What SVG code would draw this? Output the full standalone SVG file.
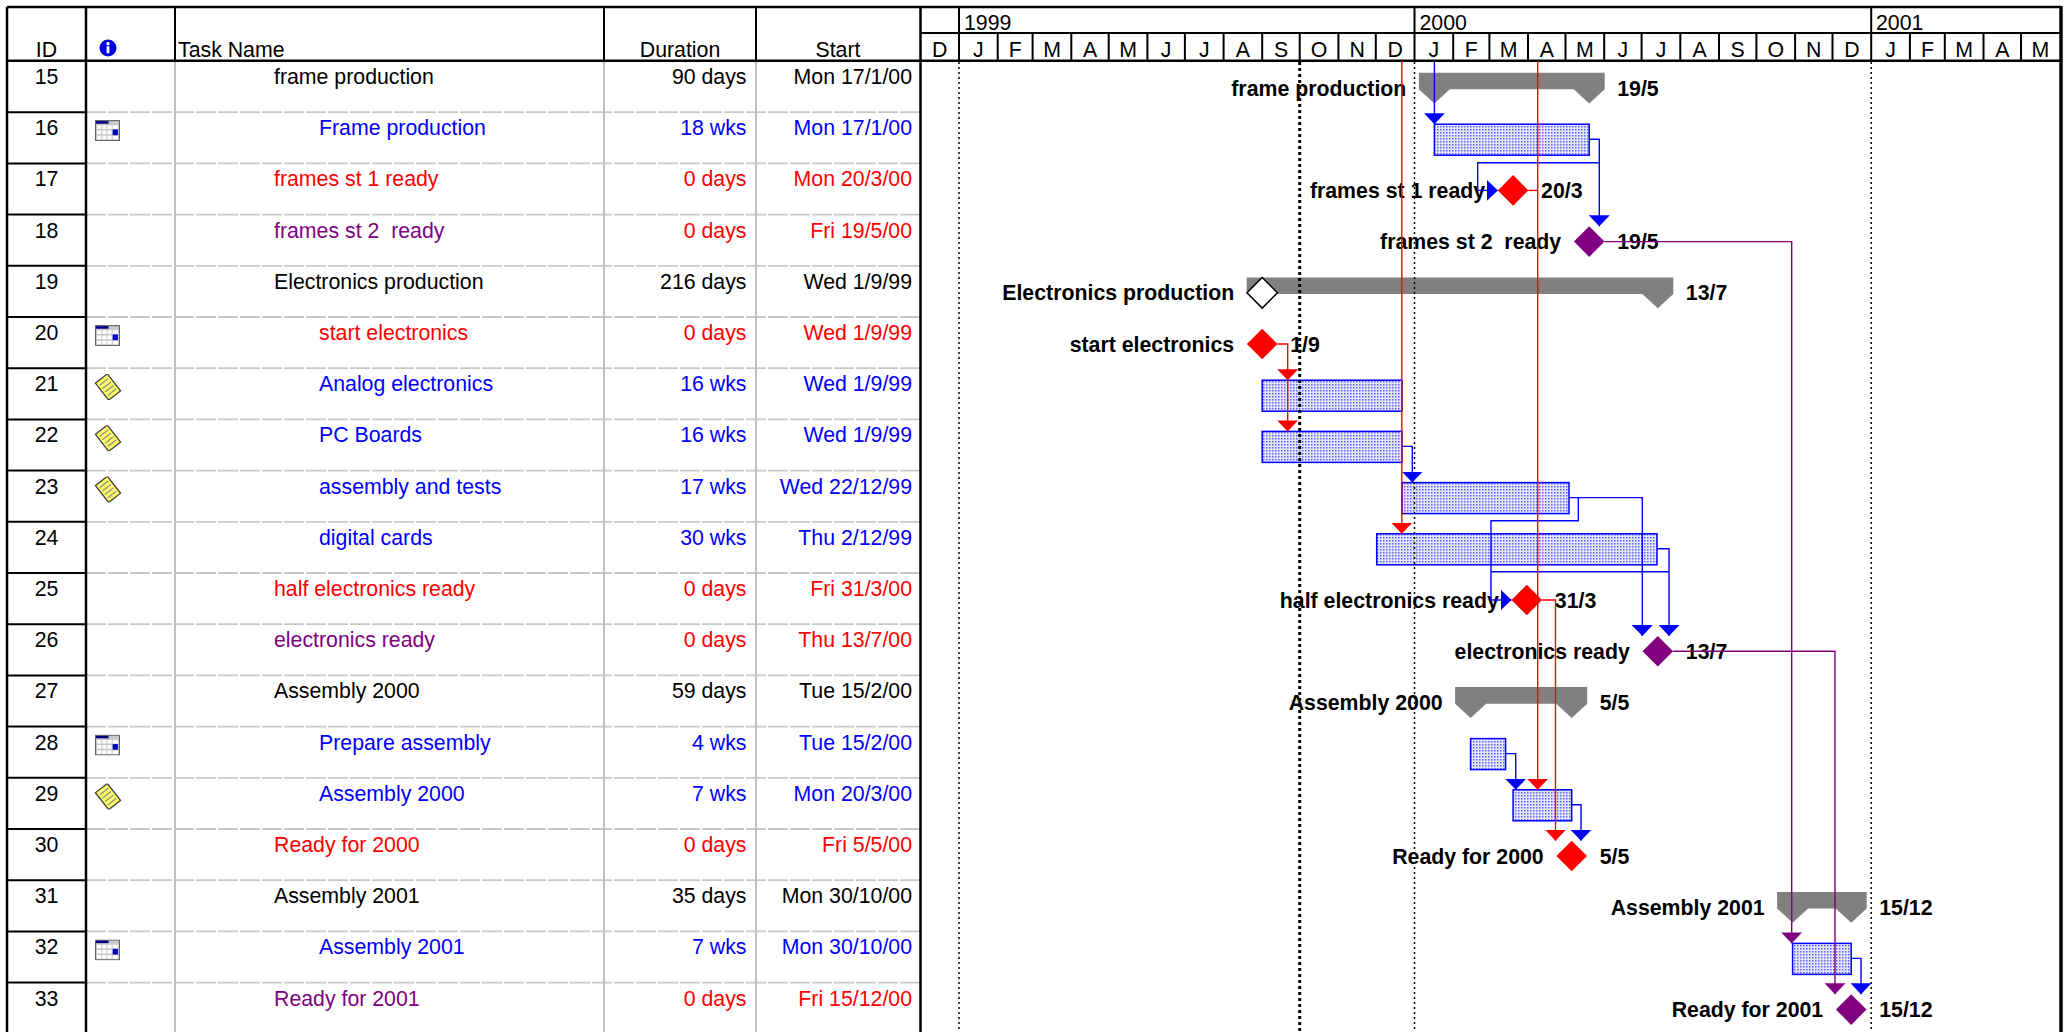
<svg xmlns="http://www.w3.org/2000/svg" width="2067" height="1032" viewBox="0 0 2067 1032">
<style>
.t{font-family:"Liberation Sans",Arial,sans-serif;font-size:21.3px}
.b{font-weight:bold;fill:#000}
.k{fill:#000}.bl{fill:#0000ff}.rd{fill:#ff0000}.pu{fill:#800080}
.e{text-anchor:end}.m{text-anchor:middle}
.ln{stroke:#000;stroke-width:2.5;fill:none}
.ml{stroke:#000;stroke-width:2;fill:none}
.gl{stroke:#c0c0c0;stroke-width:2;fill:none}
.gd{stroke:#c8c8c8;stroke-width:1.8;stroke-dasharray:20 2;fill:none}
.bar{fill:url(#dots);stroke:#0000ff;stroke-width:1.5}
.sum{fill:#808080}
.dr{fill:#ff0000}.dp{fill:#800080}
.dw{fill:#fff;stroke:#000;stroke-width:1.5}
.cb{stroke:#0000ff;stroke-width:1.4;fill:none}
.cr{stroke:#ff0000;stroke-width:1.4;fill:none}
.cp{stroke:#800080;stroke-width:1.4;fill:none}
.yd{stroke:#000;stroke-width:1.5;stroke-dasharray:2 3;fill:none}
.sd{stroke:#000;stroke-width:3;stroke-dasharray:3 3;fill:none}
</style>
<defs>
<pattern id="dots" width="3" height="3" patternUnits="userSpaceOnUse"><rect width="3" height="3" fill="#e4e4ff"/><rect width="1.5" height="1.5" fill="#6060ff"/></pattern>
<marker id="ab" viewBox="0 0 11 21" refX="11" refY="10.5" markerWidth="11" markerHeight="21" markerUnits="userSpaceOnUse" orient="auto"><path d="M0,0 L11,10.5 L0,21 Z" fill="#0000ff"/></marker>
<marker id="ar" viewBox="0 0 11 21" refX="11" refY="10.5" markerWidth="11" markerHeight="21" markerUnits="userSpaceOnUse" orient="auto"><path d="M0,0 L11,10.5 L0,21 Z" fill="#ff0000"/></marker>
<marker id="ap" viewBox="0 0 11 21" refX="11" refY="10.5" markerWidth="11" markerHeight="21" markerUnits="userSpaceOnUse" orient="auto"><path d="M0,0 L11,10.5 L0,21 Z" fill="#800080"/></marker>
<symbol id="cal" viewBox="0 0 24 20"><rect x="0.5" y="0.5" width="23" height="19" fill="#c8c8c8" stroke="#606060"/><rect x="1" y="1" width="12" height="2.5" fill="#000080"/><g fill="#fff"><rect x="2" y="5" width="4" height="3.5"/><rect x="7" y="5" width="4" height="3.5"/><rect x="12" y="5" width="4" height="3.5"/><rect x="17" y="5" width="5" height="3.5"/><rect x="2" y="10" width="4" height="3.5"/><rect x="7" y="10" width="4" height="3.5"/><rect x="12" y="10" width="4" height="3.5"/><rect x="2" y="15" width="4" height="3.5"/><rect x="7" y="15" width="4" height="3.5"/><rect x="12" y="15" width="4" height="3.5"/><rect x="17" y="15" width="5" height="3.5"/></g><rect x="17" y="9" width="5" height="5.5" fill="#0000c0"/></symbol>
<symbol id="note" viewBox="0 0 26 24"><g transform="rotate(-38 13 12)"><rect x="6" y="2" width="14" height="20" fill="#ffff66" stroke="#404040" stroke-width="1.2"/><g stroke="#909090" stroke-width="1.2"><line x1="8" y1="6" x2="18" y2="6"/><line x1="8" y1="10" x2="18" y2="10"/><line x1="8" y1="14" x2="18" y2="14"/><line x1="8" y1="18" x2="18" y2="18"/></g></g></symbol>
</defs>
<rect width="2067" height="1032" fill="#fff"/>

<g id="grid">
<path class="gd" d="M86,112.2H920 M86,163.4H920 M86,214.6H920 M86,265.8H920 M86,317H920 M86,368.2H920 M86,419.4H920 M86,470.6H920 M86,521.8H920 M86,573H920 M86,624.2H920 M86,675.4H920 M86,726.6H920 M86,777.8H920 M86,829H920 M86,880.2H920 M86,931.4H920 M86,982.6H920"/>
<path class="gl" d="M175,60.7V1032 M604,60.7V1032 M756,60.7V1032"/>
<path class="ml" d="M7,112.2H86 M7,163.4H86 M7,214.6H86 M7,265.8H86 M7,317H86 M7,368.2H86 M7,419.4H86 M7,470.6H86 M7,521.8H86 M7,573H86 M7,624.2H86 M7,675.4H86 M7,726.6H86 M7,777.8H86 M7,829H86 M7,880.2H86 M7,931.4H86 M7,982.6H86"/>
<path class="ln" d="M7,7H2061 M7,60.7H2061 M7,7V1032 M86,7V1032 M920.5,7V1032"/>
<path class="ml" d="M175,7V60.7 M604,7V60.7 M756,7V60.7 M920.5,33H2061"/>
<path class="ml" d="M959,7V60.7 M1414.5,7V60.7 M1871.2,7V60.7 M997.7,33V60.7 M1032.6,33V60.7 M1071.3,33V60.7 M1108.7,33V60.7 M1147.4,33V60.7 M1184.9,33V60.7 M1223.6,33V60.7 M1262.2,33V60.7 M1299.7,33V60.7 M1338.4,33V60.7 M1375.8,33V60.7 M1453.2,33V60.7 M1489.4,33V60.7 M1528,33V60.7 M1565.5,33V60.7 M1604.2,33V60.7 M1641.6,33V60.7 M1680.3,33V60.7 M1719,33V60.7 M1756.4,33V60.7 M1795.1,33V60.7 M1832.5,33V60.7 M1909.9,33V60.7 M1944.8,33V60.7 M1983.5,33V60.7 M2021,33V60.7"/>
<path stroke="#000" stroke-width="3.5" d="M2061,6V1032"/>
</g>

<g id="header" class="t">
<text class="k m" x="46.5" y="57">ID</text>
<circle cx="108" cy="48" r="8.5" fill="#0000e0"/><circle cx="108" cy="43.8" r="1.7" fill="#fff"/><rect x="106.6" y="46.3" width="2.8" height="7" fill="#fff"/>
<text class="k" x="178" y="57">Task Name</text>
<text class="k m" x="680" y="57">Duration</text>
<text class="k m" x="838" y="57">Start</text>
<text class="k" x="964" y="30">1999</text>
<text class="k" x="1419.5" y="30">2000</text>
<text class="k" x="1876" y="30">2001</text>
<g class="k m">
<text x="939.7" y="57">D</text><text x="978.4" y="57">J</text><text x="1015.2" y="57">F</text><text x="1052" y="57">M</text><text x="1090" y="57">A</text><text x="1128.1" y="57">M</text><text x="1166.2" y="57">J</text><text x="1204.3" y="57">J</text><text x="1242.9" y="57">A</text><text x="1281" y="57">S</text><text x="1319.1" y="57">O</text><text x="1357.1" y="57">N</text><text x="1395.2" y="57">D</text>
<text x="1433.9" y="57">J</text><text x="1471.3" y="57">F</text><text x="1508.7" y="57">M</text><text x="1546.8" y="57">A</text><text x="1584.9" y="57">M</text><text x="1622.9" y="57">J</text><text x="1661" y="57">J</text><text x="1699.7" y="57">A</text><text x="1737.7" y="57">S</text><text x="1775.8" y="57">O</text><text x="1813.8" y="57">N</text><text x="1851.9" y="57">D</text>
<text x="1890.6" y="57">J</text><text x="1927.4" y="57">F</text><text x="1964.2" y="57">M</text><text x="2002.3" y="57">A</text><text x="2040.3" y="57">M</text>
</g>
</g>

<g id="task15" class="t">
<text class="k m" x="46.5" y="84">15</text><text class="k" x="274" y="84">frame production</text><text class="k e" x="746.5" y="84">90 days</text><text class="k e" x="912" y="84">Mon 17/1/00</text>
<path class="sum" d="M1418.9,72.7H1604.7V89.3L1589.2,103.5L1573.7,89.3H1449.9L1434.4,103.5L1418.9,89.3Z"/>
<text class="b e" x="1406.4" y="95.5">frame production</text><text class="b" x="1617.2" y="95.5">19/5</text>
</g>
<g id="task16" class="t">
<text class="k m" x="46.5" y="135.2">16</text><use href="#cal" x="95" y="120" width="25" height="21"/><text class="bl" x="319" y="135.2">Frame production</text><text class="bl e" x="746.5" y="135.2">18 wks</text><text class="bl e" x="912" y="135.2">Mon 17/1/00</text>
<rect class="bar" x="1434.4" y="124.2" width="154.8" height="31"/>
</g>
<g id="task17" class="t">
<text class="k m" x="46.5" y="186.4">17</text><text class="rd" x="274" y="186.4">frames st 1 ready</text><text class="rd e" x="746.5" y="186.4">0 days</text><text class="rd e" x="912" y="186.4">Mon 20/3/00</text>
<path class="dr" d="M1513.1,175.1L1528.4,190.4L1513.1,205.7L1497.8,190.4Z"/>
<text class="b e" x="1485.1" y="197.9">frames st 1 ready</text><text class="b" x="1541.1" y="197.9">20/3</text>
</g>
<g id="task18" class="t">
<text class="k m" x="46.5" y="237.6">18</text><text class="pu" x="274" y="237.6" xml:space="preserve">frames st 2  ready</text><text class="rd e" x="746.5" y="237.6">0 days</text><text class="rd e" x="912" y="237.6">Fri 19/5/00</text>
<path class="dp" d="M1589.2,226.3L1604.5,241.6L1589.2,256.9L1573.9,241.6Z"/>
<text class="b e" x="1561.2" y="249.1" xml:space="preserve">frames st 2  ready</text><text class="b" x="1617.2" y="249.1">19/5</text>
</g>
<g id="task19" class="t">
<text class="k m" x="46.5" y="288.8">19</text><text class="k" x="274" y="288.8">Electronics production</text><text class="k e" x="746.5" y="288.8">216 days</text><text class="k e" x="912" y="288.8">Wed 1/9/99</text>
<path class="sum" d="M1246.7,277.5H1673.3V294.1L1657.8,308.3L1642.3,294.1H1246.7Z"/>
<path class="dw" d="M1262.2,277.5L1277.5,292.8L1262.2,308.1L1246.9,292.8Z"/>
<text class="b e" x="1234.2" y="300.3">Electronics production</text><text class="b" x="1685.8" y="300.3">13/7</text>
</g>
<g id="task20" class="t">
<text class="k m" x="46.5" y="340">20</text><use href="#cal" x="95" y="325" width="25" height="21"/><text class="rd" x="319" y="340">start electronics</text><text class="rd e" x="746.5" y="340">0 days</text><text class="rd e" x="912" y="340">Wed 1/9/99</text>
<path class="dr" d="M1262.2,328.7L1277.5,344L1262.2,359.3L1246.9,344Z"/>
<text class="b e" x="1234.2" y="351.5">start electronics</text><text class="b" x="1290.2" y="351.5">1/9</text>
</g>
<g id="task21" class="t">
<text class="k m" x="46.5" y="391.2">21</text><use href="#note" x="94" y="374" width="28" height="26"/><text class="bl" x="319" y="391.2">Analog electronics</text><text class="bl e" x="746.5" y="391.2">16 wks</text><text class="bl e" x="912" y="391.2">Wed 1/9/99</text>
<rect class="bar" x="1262.2" y="380.2" width="139.8" height="31"/>
</g>
<g id="task22" class="t">
<text class="k m" x="46.5" y="442.4">22</text><use href="#note" x="94" y="425.2" width="28" height="26"/><text class="bl" x="319" y="442.4">PC Boards</text><text class="bl e" x="746.5" y="442.4">16 wks</text><text class="bl e" x="912" y="442.4">Wed 1/9/99</text>
<rect class="bar" x="1262.2" y="431.4" width="139.8" height="31"/>
</g>
<g id="task23" class="t">
<text class="k m" x="46.5" y="493.6">23</text><use href="#note" x="94" y="476.4" width="28" height="26"/><text class="bl" x="319" y="493.6">assembly and tests</text><text class="bl e" x="746.5" y="493.6">17 wks</text><text class="bl e" x="912" y="493.6">Wed 22/12/99</text>
<rect class="bar" x="1402" y="482.6" width="167" height="31"/>
</g>
<g id="task24" class="t">
<text class="k m" x="46.5" y="544.8">24</text><text class="bl" x="319" y="544.8">digital cards</text><text class="bl e" x="746.5" y="544.8">30 wks</text><text class="bl e" x="912" y="544.8">Thu 2/12/99</text>
<rect class="bar" x="1376.7" y="533.8" width="280.3" height="31"/>
</g>
<g id="task25" class="t">
<text class="k m" x="46.5" y="596">25</text><text class="rd" x="274" y="596">half electronics ready</text><text class="rd e" x="746.5" y="596">0 days</text><text class="rd e" x="912" y="596">Fri 31/3/00</text>
<path class="dr" d="M1526.8,584.7L1542.1,600L1526.8,615.3L1511.5,600Z"/>
<text class="b e" x="1498.8" y="607.5">half electronics ready</text><text class="b" x="1554.8" y="607.5">31/3</text>
</g>
<g id="task26" class="t">
<text class="k m" x="46.5" y="647.2">26</text><text class="pu" x="274" y="647.2">electronics ready</text><text class="rd e" x="746.5" y="647.2">0 days</text><text class="rd e" x="912" y="647.2">Thu 13/7/00</text>
<path class="dp" d="M1657.8,635.9L1673.1,651.2L1657.8,666.5L1642.5,651.2Z"/>
<text class="b e" x="1629.8" y="658.7">electronics ready</text><text class="b" x="1685.8" y="658.7">13/7</text>
</g>
<g id="task27" class="t">
<text class="k m" x="46.5" y="698.4">27</text><text class="k" x="274" y="698.4">Assembly 2000</text><text class="k e" x="746.5" y="698.4">59 days</text><text class="k e" x="912" y="698.4">Tue 15/2/00</text>
<path class="sum" d="M1455.1,687.1H1587.2V703.7L1571.7,717.9L1556.2,703.7H1486.1L1470.6,717.9L1455.1,703.7Z"/>
<text class="b e" x="1442.6" y="709.9">Assembly 2000</text><text class="b" x="1599.7" y="709.9">5/5</text>
</g>
<g id="task28" class="t">
<text class="k m" x="46.5" y="749.6">28</text><use href="#cal" x="95" y="734.6" width="25" height="21"/><text class="bl" x="319" y="749.6">Prepare assembly</text><text class="bl e" x="746.5" y="749.6">4 wks</text><text class="bl e" x="912" y="749.6">Tue 15/2/00</text>
<rect class="bar" x="1470.6" y="738.6" width="35" height="31"/>
</g>
<g id="task29" class="t">
<text class="k m" x="46.5" y="800.8">29</text><use href="#note" x="94" y="783.6" width="28" height="26"/><text class="bl" x="319" y="800.8">Assembly 2000</text><text class="bl e" x="746.5" y="800.8">7 wks</text><text class="bl e" x="912" y="800.8">Mon 20/3/00</text>
<rect class="bar" x="1513.1" y="789.8" width="58.6" height="31"/>
</g>
<g id="task30" class="t">
<text class="k m" x="46.5" y="852">30</text><text class="rd" x="274" y="852">Ready for 2000</text><text class="rd e" x="746.5" y="852">0 days</text><text class="rd e" x="912" y="852">Fri 5/5/00</text>
<path class="dr" d="M1571.7,840.7L1587,856L1571.7,871.3L1556.4,856Z"/>
<text class="b e" x="1543.7" y="863.5">Ready for 2000</text><text class="b" x="1599.7" y="863.5">5/5</text>
</g>
<g id="task31" class="t">
<text class="k m" x="46.5" y="903.2">31</text><text class="k" x="274" y="903.2">Assembly 2001</text><text class="k e" x="746.5" y="903.2">35 days</text><text class="k e" x="912" y="903.2">Mon 30/10/00</text>
<path class="sum" d="M1777.1,891.9H1866.7V908.5L1851.2,922.7L1835.7,908.5H1808.1L1792.6,922.7L1777.1,908.5Z"/>
<text class="b e" x="1764.6" y="914.7">Assembly 2001</text><text class="b" x="1879.2" y="914.7">15/12</text>
</g>
<g id="task32" class="t">
<text class="k m" x="46.5" y="954.4">32</text><use href="#cal" x="95" y="939.4" width="25" height="21"/><text class="bl" x="319" y="954.4">Assembly 2001</text><text class="bl e" x="746.5" y="954.4">7 wks</text><text class="bl e" x="912" y="954.4">Mon 30/10/00</text>
<rect class="bar" x="1792.6" y="943.4" width="58.6" height="31"/>
</g>
<g id="task33" class="t">
<text class="k m" x="46.5" y="1005.6">33</text><text class="pu" x="274" y="1005.6">Ready for 2001</text><text class="rd e" x="746.5" y="1005.6">0 days</text><text class="rd e" x="912" y="1005.6">Fri 15/12/00</text>
<path class="dp" d="M1851.2,994.3L1866.5,1009.6L1851.2,1024.9L1835.9,1009.6Z"/>
<text class="b e" x="1823.2" y="1017.1">Ready for 2001</text><text class="b" x="1879.2" y="1017.1">15/12</text>
</g>

<g id="timelines">
<path class="yd" d="M959,62V1032 M1414.5,62V1032 M1871.2,62V1032"/>
<path class="sd" d="M1299.7,62V1032"/>
</g>

<g id="connectors">
<path class="cb" marker-end="url(#ab)" d="M1434.4,61V124.2"/>
<path class="cb" marker-end="url(#ab)" d="M1589.2,139.2H1599.3V226.3"/>
<path class="cb" marker-end="url(#ab)" d="M1599.3,162.7H1477.7V190.4H1497.8"/>
<path class="cb" marker-end="url(#ab)" d="M1402,446.4H1412.3V482.6"/>
<path class="cb" marker-end="url(#ab)" d="M1569,497.6H1642.3V636"/>
<path class="cb" marker-end="url(#ab)" d="M1578.3,497.6V520.7H1491V600H1511.5"/>
<path class="cb" marker-end="url(#ab)" d="M1657,548.8H1669V636"/>
<path class="cb" d="M1669,571.7H1491"/>
<path class="cb" marker-end="url(#ab)" d="M1505.6,753.6H1515.7V789.8"/>
<path class="cb" marker-end="url(#ab)" d="M1571.7,804.8H1581V840.7"/>
<path class="cb" marker-end="url(#ab)" d="M1851.2,958.4H1861V994.3"/>
<path class="cr" marker-end="url(#ar)" d="M1401.8,61V533.8"/>
<path class="cr" marker-end="url(#ar)" d="M1537.7,61V789.8"/>
<path class="cr" d="M1528.4,190.4H1537.7"/>
<path class="cr" marker-end="url(#ar)" d="M1277.5,344H1287.7V380.2"/>
<path class="cr" marker-end="url(#ar)" d="M1287.7,380.2V431.4"/>
<path class="cr" marker-end="url(#ar)" d="M1542.1,600H1555.5V840.7"/>
<path class="cp" marker-end="url(#ap)" d="M1604.5,241.6H1791.7V943.4"/>
<path class="cp" marker-end="url(#ap)" d="M1673.1,651.2H1835V994.3"/>
</g>
</svg>
